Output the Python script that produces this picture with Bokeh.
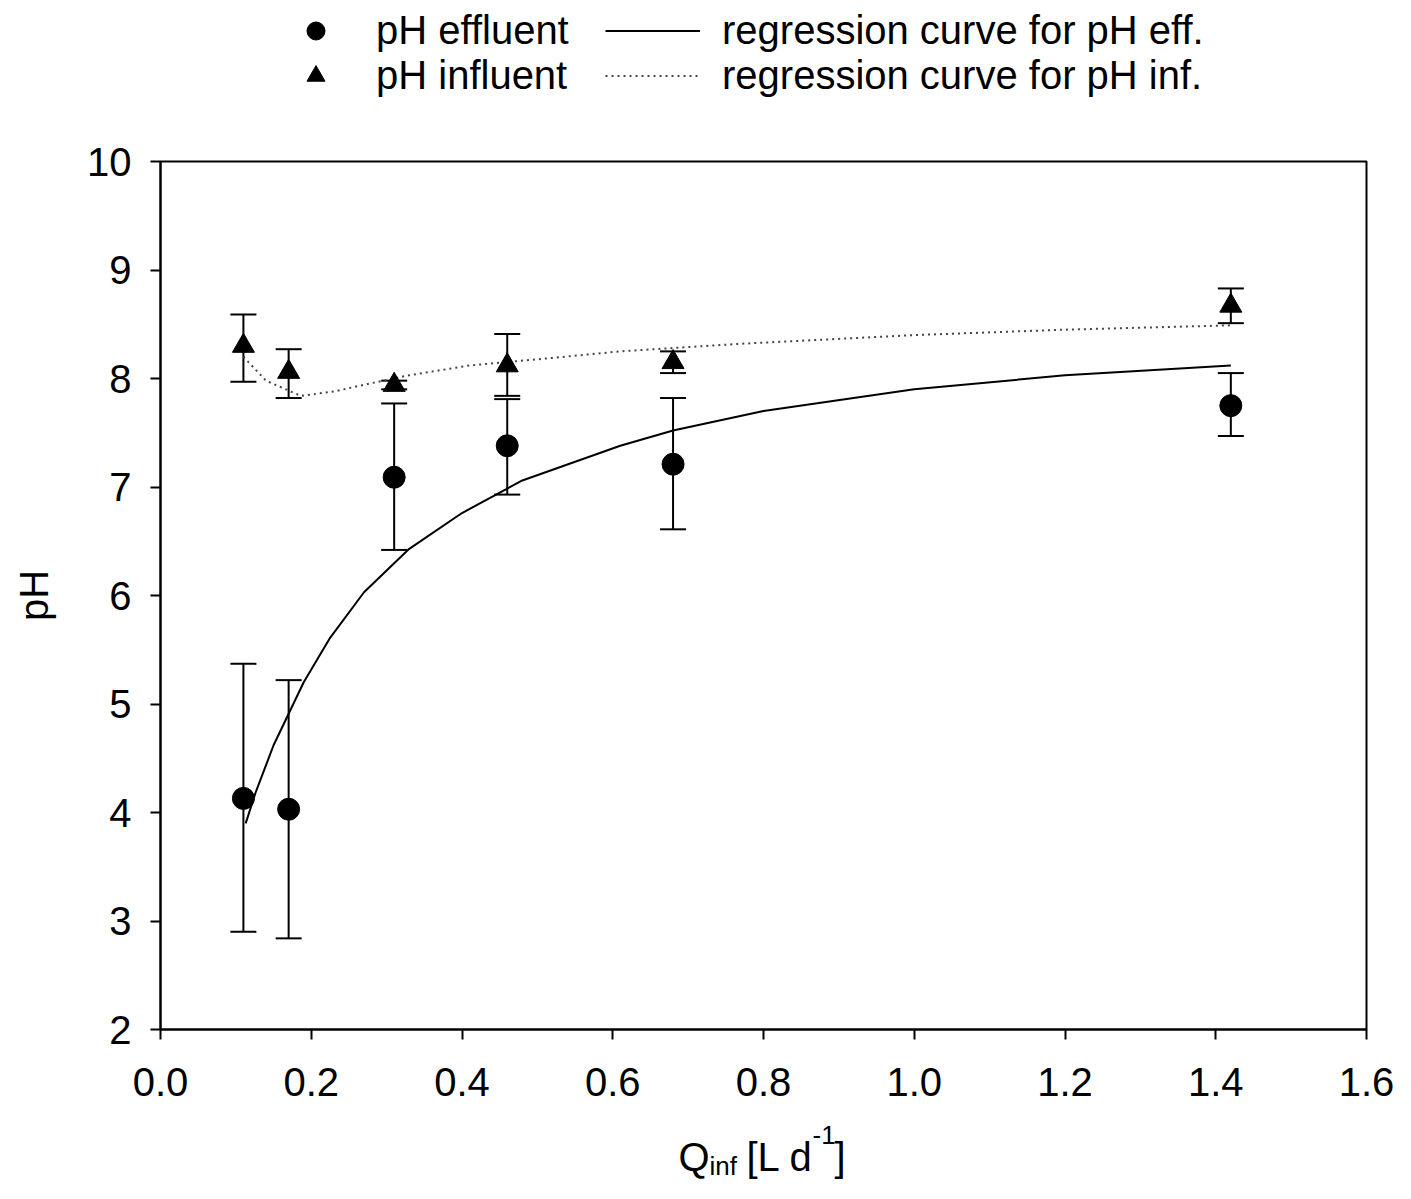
from bokeh.plotting import figure
from bokeh.layouts import column
from bokeh.models import (ColumnDataSource, Whisker, TeeHead, Legend, LegendItem,
                          Label, FixedTicker, Range1d, PrintfTickFormatter)
from bokeh.embed import file_html
from bokeh.resources import INLINE

# ---- data ----
q_inf = [0.11, 0.17, 0.31, 0.46, 0.68, 1.42]

ph_eff = [4.13, 4.03, 7.09, 7.38, 7.21, 7.75]
ph_eff_lo = [2.90, 2.84, 6.42, 6.93, 6.61, 7.47]
ph_eff_hi = [5.37, 5.22, 7.77, 7.81, 7.82, 8.05]

ph_inf = [8.30, 8.06, 7.94, 8.12, 8.15, 8.67]
ph_inf_lo = [7.97, 7.82, 7.90, 7.84, 8.05, 8.51]
ph_inf_hi = [8.59, 8.27, 7.98, 8.41, 8.25, 8.83]

reg_eff_x = [0.113, 0.126, 0.15, 0.17, 0.19, 0.225, 0.27, 0.33, 0.40, 0.48,
             0.61, 0.68, 0.80, 1.0, 1.2, 1.42]
reg_eff_y = [3.90, 4.18, 4.62, 4.91, 5.20, 5.61, 6.03, 6.43, 6.76, 7.06,
             7.38, 7.52, 7.70, 7.90, 8.03, 8.12]

reg_inf_x = [0.11, 0.14, 0.186, 0.23, 0.275, 0.33, 0.41, 0.52, 0.61, 0.77,
             1.0, 1.2, 1.42]
reg_inf_y = [8.20, 7.98, 7.84, 7.88, 7.95, 8.03, 8.12, 8.19, 8.25, 8.32,
             8.40, 8.45, 8.49]

x_ticks = [0.0, 0.2, 0.4, 0.6, 0.8, 1.0, 1.2, 1.4, 1.6]
y_ticks = [2, 3, 4, 5, 6, 7, 8, 9, 10]

legend_labels = ["pH effluent", "pH influent",
                 "regression curve for pH eff.", "regression curve for pH inf."]
x_title_parts = ["Q", "inf", "[L d", "-1", "]"]
y_title = "pH"

FONT = "Liberation Sans"
FS = "40px"
FRAME_W = 1206
LEFT = 160
RIGHT = 29
TOP_H = 130
BOT_H = 70


def strip_figure(h):
    f = figure(frame_width=FRAME_W, frame_height=h,
               x_range=Range1d(0, 1.6), y_range=Range1d(100, 101),
               x_axis_location=None, y_axis_location=None,
               min_border_left=LEFT, min_border_right=RIGHT,
               min_border_top=0, min_border_bottom=0,
               output_backend="svg", toolbar_location=None)
    f.outline_line_color = None
    f.xgrid.visible = False
    f.ygrid.visible = False
    f.background_fill_color = "white"
    f.border_fill_color = "white"
    return f


def style_legend(lg, standoff):
    lg.glyph_width = 95
    lg.glyph_height = 45
    lg.label_standoff = standoff
    lg.label_text_font = FONT
    lg.label_text_font_size = FS
    lg.label_text_color = "black"
    lg.label_height = 45
    lg.spacing = 0
    lg.padding = 0
    lg.margin = 0
    lg.border_line_color = None
    lg.background_fill_alpha = 0


# ---------------- main plot ----------------
p = figure(frame_width=FRAME_W, frame_height=868,
           min_border_left=LEFT, min_border_right=RIGHT,
           min_border_top=161 - TOP_H, min_border_bottom=84,
           x_range=Range1d(0, 1.6), y_range=Range1d(2, 10),
           output_backend="svg", toolbar_location=None)
p.background_fill_color = "white"
p.border_fill_color = "white"
p.outline_line_color = "black"
p.outline_line_width = 2
p.xgrid.visible = False
p.ygrid.visible = False

for ax in (p.xaxis[0], p.yaxis[0]):
    ax.axis_line_width = 2
    ax.axis_line_color = "black"
    ax.major_tick_line_width = 2
    ax.major_tick_line_color = "black"
    ax.major_tick_in = 0
    ax.major_tick_out = 10
    ax.minor_tick_line_color = None
    ax.major_label_text_font = FONT
    ax.major_label_text_font_size = FS
    ax.major_label_text_color = "black"
    ax.axis_label_text_font = FONT
    ax.axis_label_text_font_size = FS
    ax.axis_label_text_font_style = "normal"
    ax.axis_label_text_color = "black"

p.xaxis[0].ticker = FixedTicker(ticks=x_ticks)
p.xaxis[0].formatter = PrintfTickFormatter(format="%.1f")
p.xaxis[0].major_label_standoff = 28
p.yaxis[0].ticker = FixedTicker(ticks=y_ticks)
p.yaxis[0].formatter = PrintfTickFormatter(format="%d")
p.yaxis[0].major_label_standoff = 19
p.yaxis[0].axis_label = y_title
p.yaxis[0].axis_label_standoff = 28

src_eff = ColumnDataSource(dict(x=q_inf, y=ph_eff, lo=ph_eff_lo, hi=ph_eff_hi))
src_inf = ColumnDataSource(dict(x=q_inf, y=ph_inf, lo=ph_inf_lo, hi=ph_inf_hi))

for src in (src_eff, src_inf):
    w = Whisker(base="x", lower="lo", upper="hi", source=src,
                line_color="black", line_width=2,
                upper_head=TeeHead(size=26, line_width=2, line_color="black"),
                lower_head=TeeHead(size=26, line_width=2, line_color="black"),
                level="underlay")
    p.add_layout(w)

EFF_LINE = dict(line_color="black", line_width=2)
INF_LINE = dict(line_color="#444444", line_width=2, line_dash="2 4")
EFF_PT = dict(marker="circle", size=22, fill_color="black", line_color="black")
INF_PT = dict(marker="triangle", size=22, fill_color="black", line_color="black")

p.line(reg_eff_x, reg_eff_y, **EFF_LINE)
p.line(reg_inf_x, reg_inf_y, **INF_LINE)
p.scatter("x", "y", source=src_eff, **EFF_PT)
p.scatter("x", "y", source=src_inf, **INF_PT)

# ---------------- legend strip (above) ----------------
# the same series are drawn here outside the visible y-range, so only the
# legend samples show
top = strip_figure(TOP_H)
le1 = top.scatter("x", "y", source=src_eff, **EFF_PT)
le2 = top.scatter("x", "y", source=src_inf, **INF_PT)
le3 = top.line(reg_eff_x, reg_eff_y, **EFF_LINE)
le4 = top.line(reg_inf_x, reg_inf_y, **INF_LINE)

leg_pts = Legend(items=[
    LegendItem(label=legend_labels[0], renderers=[le1]),
    LegendItem(label=legend_labels[1], renderers=[le2]),
], location=(268 - LEFT, TOP_H - 98))
style_legend(leg_pts, 13)
top.add_layout(leg_pts, "center")

leg_lines = Legend(items=[
    LegendItem(label=legend_labels[2], renderers=[le3]),
    LegendItem(label=legend_labels[3], renderers=[le4]),
], location=(605 - LEFT, TOP_H - 98))
style_legend(leg_lines, 22)
top.add_layout(leg_lines, "center")

# ---------------- x-axis title strip (below) ----------------
bot = strip_figure(BOT_H)
parts = [
    (x_title_parts[0], 678, 27, FS),
    (x_title_parts[1], 709, 18, "26px"),
    (x_title_parts[2], 746, 27, FS),
    (x_title_parts[3], 812, 49, "26px"),
    (x_title_parts[4], 834, 27, FS),
]
for txt, sx, sy, fs in parts:
    bot.add_layout(Label(x=sx - LEFT, y=sy, x_units="screen", y_units="screen",
                         text=txt, text_font=FONT, text_font_size=fs,
                         text_color="black", text_baseline="alphabetic",
                         text_align="left"))

layout = column(top, p, bot, spacing=0)
open("out.html", "w").write(file_html(layout, INLINE))
